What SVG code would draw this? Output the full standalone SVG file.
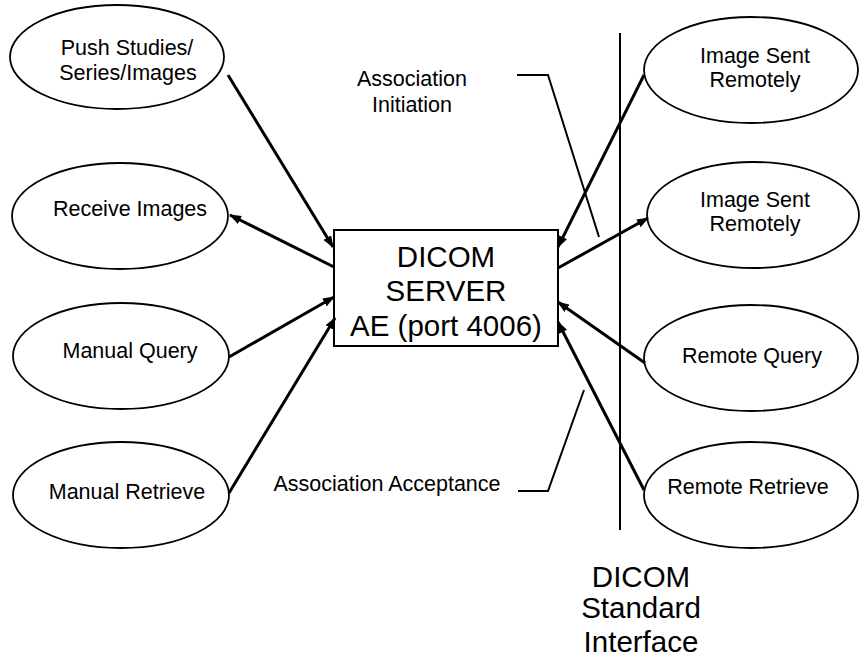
<svg xmlns="http://www.w3.org/2000/svg" width="860" height="660" viewBox="0 0 860 660">
<style>
.node ellipse{fill:#fff;stroke:#000;stroke-width:1.8}
.box{fill:#fff;stroke:#000;stroke-width:2}
text{font-family:"Liberation Sans",Arial,sans-serif;fill:#000;text-anchor:middle}
.s{font-size:21.5px}
.l{font-size:29.5px}
.conn line{stroke:#000;stroke-width:3;marker-end:url(#ah)}
.thin{fill:none;stroke:#000;stroke-width:2}
</style>
<defs>
<marker id="ah" markerUnits="userSpaceOnUse" viewBox="0 0 12 9" refX="11" refY="4.5" markerWidth="12" markerHeight="9" orient="auto">
<path d="M0,0 L12,4.5 L0,9 z" fill="#000"/>
</marker>
</defs>
<rect width="860" height="660" fill="#fff"/>
<g id="push" class="node"><ellipse cx="117" cy="57" rx="107" ry="52"/><text class="s" x="127" y="55">Push Studies/</text><text class="s" x="128" y="80">Series/Images</text></g>
<g id="receive" class="node"><ellipse cx="120" cy="216" rx="108" ry="53"/><text class="s" x="130" y="216">Receive Images</text></g>
<g id="mquery" class="node"><ellipse cx="121" cy="356" rx="108" ry="53"/><text class="s" x="130" y="358">Manual Query</text></g>
<g id="mretrieve" class="node"><ellipse cx="121" cy="495" rx="108" ry="53"/><text class="s" x="127" y="499">Manual Retrieve</text></g>
<g id="sent1" class="node"><ellipse cx="751" cy="70" rx="107" ry="53"/><text class="s" x="755" y="63">Image Sent</text><text class="s" x="755" y="87">Remotely</text></g>
<g id="sent2" class="node"><ellipse cx="753" cy="215" rx="106" ry="53"/><text class="s" x="755" y="207">Image Sent</text><text class="s" x="755" y="231">Remotely</text></g>
<g id="rquery" class="node"><ellipse cx="751" cy="358" rx="107" ry="53"/><text class="s" x="752" y="363">Remote Query</text></g>
<g id="rretrieve" class="node"><ellipse cx="751" cy="495" rx="107" ry="53"/><text class="s" x="748" y="494">Remote Retrieve</text></g>
<g id="server"><rect class="box" x="334" y="230" width="224" height="116"/><text class="l" x="446" y="267">DICOM</text><text class="l" x="446" y="301">SERVER</text><text class="l" x="446" y="336">AE (port 4006)</text></g>
<g id="interface"><line x1="620" y1="33" x2="620" y2="530" stroke="#000" stroke-width="2"/><text class="l" x="641" y="587">DICOM</text><text class="l" x="641" y="618">Standard</text><text class="l" x="641" y="652">Interface</text></g>
<g id="initiation"><path class="thin" d="M517,75 L548,75 L599,237"/><text class="s" x="412" y="86">Association</text><text class="s" x="412" y="112">Initiation</text></g>
<g id="acceptance"><path class="thin" d="M518,491 L548,491 L584,390"/><text class="s" x="387" y="491">Association Acceptance</text></g>
<g id="connectors" class="conn">
<line x1="228" y1="75" x2="333" y2="247"/>
<line x1="334" y1="267" x2="230" y2="215"/>
<line x1="229" y1="357" x2="334" y2="297"/>
<line x1="229" y1="493" x2="335" y2="318"/>
<line x1="644" y1="75" x2="558" y2="247"/>
<line x1="558" y1="268" x2="648" y2="218"/>
<line x1="645" y1="363" x2="558" y2="302"/>
<line x1="644" y1="490" x2="558" y2="322"/>
</g>
</svg>
